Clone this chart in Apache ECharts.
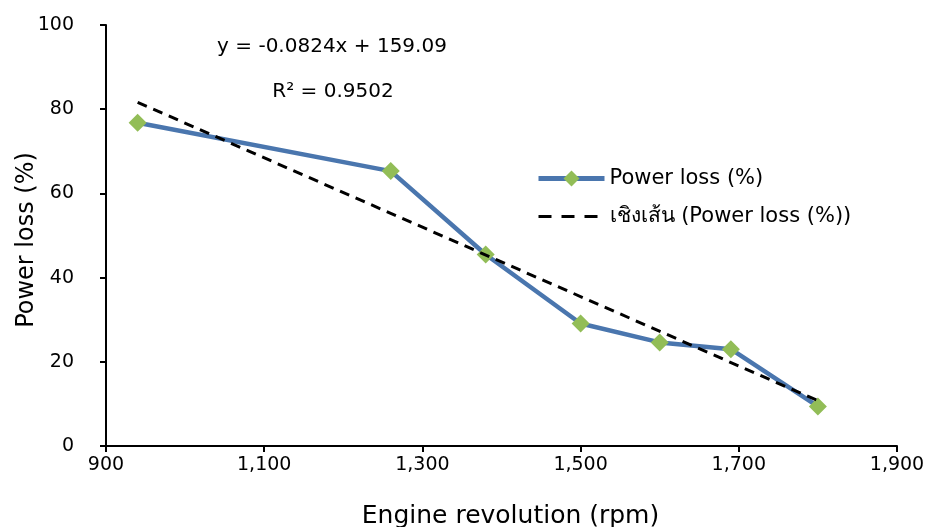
<!doctype html>
<html>

<head>
    <meta charset="utf-8">
    <title>Power loss</title>
    <script type="text/javascript" src="https://cdn.jsdelivr.net/npm/echarts@6/dist/echarts.min.js"></script>
</head>

<body style="margin:0;padding:0;background:#fff">
    <div id="tb" style="width:927px;height:527px"></div>
    <script>
        // 数据
        var rpm = [940, 1260, 1380, 1500, 1600, 1690, 1800];
        var powerLoss = [76.8, 65.3, 45.5, 29.1, 24.6, 23.0, 9.4];
        var slope = -0.0824;
        var intercept = 159.09;
        var rSquared = 0.9502;
        var xTicks = [900, 1100, 1300, 1500, 1700, 1900];
        var yTicks = [0, 20, 40, 60, 80, 100];

        var fontFam = 'DejaVu Sans, Noto Sans, sans-serif';
        var lossData = rpm.map(function (x, i) { return [x, powerLoss[i]]; });
        var xa = rpm[0], xb = rpm[rpm.length - 1];
        var trendData = [[xa, slope * xa + intercept], [xb, slope * xb + intercept]];

        var chart = echarts.init(document.getElementById('tb'));
        chart.setOption({
            animation: false,
            textStyle: { fontFamily: fontFam },
            grid: { left: 106, right: 30, top: 25, bottom: 81, outerBoundsMode: 'none', containLabel: false },
            title: [{
                text: 'y = ' + slope + 'x + ' + intercept.toFixed(2),
                left: 327, top: 32, textAlign: 'center',
                textStyle: { fontSize: 20, fontWeight: 'normal', color: '#000', fontFamily: fontFam }
            }, {
                text: 'R² = ' + rSquared,
                left: 328, top: 77, textAlign: 'center',
                textStyle: { fontSize: 20, fontWeight: 'normal', color: '#000', fontFamily: fontFam }
            }],
            // y轴标题，用graphic定位
            graphic: [{
                type: 'text',
                x: 27, y: 240,
                rotation: Math.PI / 2,
                style: {
                    text: 'Power loss (%)',
                    fontSize: 24, fill: '#000', fontFamily: fontFam,
                    align: 'center', verticalAlign: 'middle'
                }
            }],
            legend: {
                orient: 'vertical',
                left: 531, top: 163,
                itemGap: 17,
                itemWidth: 66, itemHeight: 20,
                textStyle: { fontSize: 21, color: '#000', fontFamily: fontFam },
                data: [{
                    name: 'Power loss (%)',
                    lineStyle: { width: 5 }
                }, {
                    name: 'เชิงเส้น (Power loss (%))',
                    itemStyle: { opacity: 0 },
                    lineStyle: { width: 3, type: [13, 10] }
                }]
            },
            xAxis: {
                type: 'value',
                min: xTicks[0], max: xTicks[xTicks.length - 1], interval: 200,
                name: 'Engine revolution (rpm)',
                nameLocation: 'middle', nameGap: 58,
                nameTextStyle: { fontSize: 25, color: '#000', fontFamily: fontFam, padding: [0, 0, 0, 18] },
                axisLine: { lineStyle: { color: '#000', width: 2 } },
                axisTick: { show: true, length: 6, lineStyle: { color: '#000', width: 2 } },
                axisLabel: {
                    fontSize: 19, color: '#000', margin: 10,
                    formatter: function (v) { return v.toLocaleString('en-US'); }
                },
                splitLine: { show: false }
            },
            yAxis: {
                type: 'value',
                min: yTicks[0], max: yTicks[yTicks.length - 1], interval: 20,
                axisLine: { show: true, lineStyle: { color: '#000', width: 2 } },
                axisTick: { show: true, length: 6, lineStyle: { color: '#000', width: 2 } },
                axisLabel: { fontSize: 19, color: '#000', margin: 32 },
                splitLine: { show: false }
            },
            series: [{
                name: 'Power loss (%)',
                type: 'line',
                data: lossData,
                symbol: 'diamond',
                symbolSize: 18,
                lineStyle: { color: '#4A76AE', width: 4.5 },
                itemStyle: { color: '#92BD57' },
                z: 2
            }, {
                name: 'เชิงเส้น (Power loss (%))',
                type: 'line',
                data: trendData,
                symbol: 'none',
                lineStyle: { color: '#000', width: 3, type: [10, 7] },
                itemStyle: { color: '#000' },
                z: 3
            }]
        });
    </script>
</body>

</html>
